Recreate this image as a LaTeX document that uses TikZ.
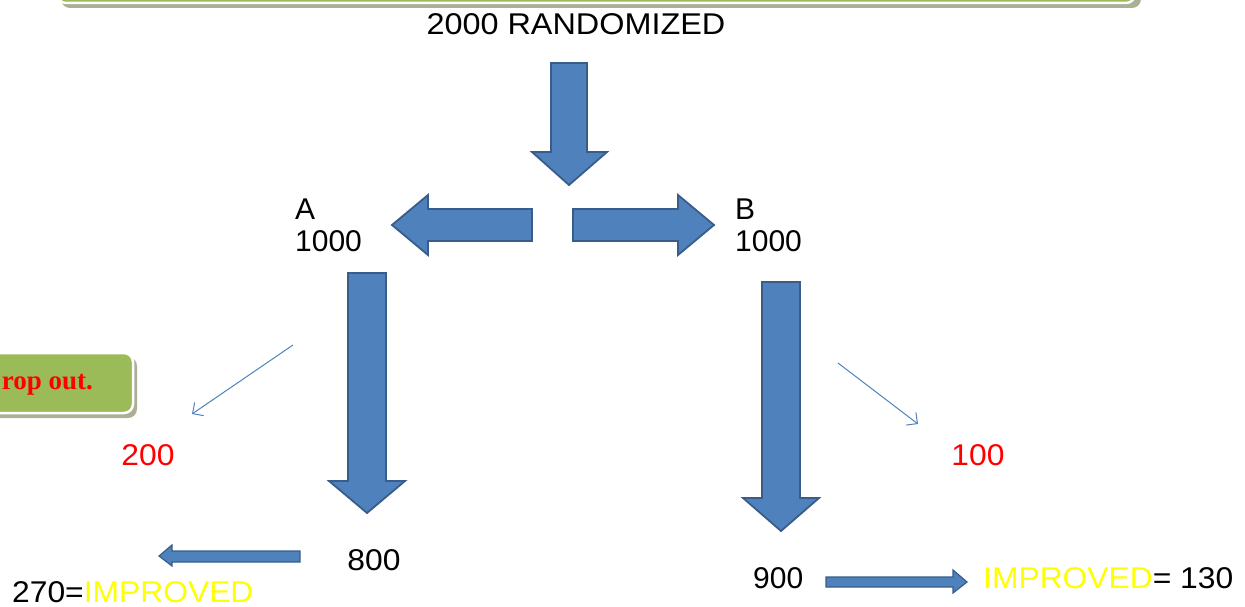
\documentclass[tikz,border=0pt]{standalone}
\usepackage{fontspec}
\setmainfont{Liberation Sans}
\newfontfamily\serifbold{Liberation Serif}
\usetikzlibrary{arrows.meta}
\definecolor{arrowblue}{HTML}{4F81BD}
\definecolor{arrowdark}{HTML}{385D8A}
\definecolor{boxgreen}{HTML}{9BBB59}
\definecolor{boxshadow}{HTML}{A9B096}
\definecolor{txtyellow}{HTML}{FFFF00}
\definecolor{txtred}{HTML}{FF0000}
\tikzset{
  blockarrow/.style={fill=arrowblue, draw=arrowdark, line width=1.8pt, line join=miter},
  smallarrow/.style={fill=arrowblue, draw=arrowdark, line width=1.2pt, line join=miter},
  thinarrow/.style={draw=arrowblue, line width=1pt, -{Straight Barb[length=8pt,width=16pt]}},
  label/.style={inner sep=0pt, font=\fontsize{30}{32}\selectfont},
  greenbox/.style={fill=boxgreen, draw=white, line width=2.5pt, rounded corners=9pt},
  shadowbox/.style={fill=boxshadow, rounded corners=9pt},
}
\newcommand{\wide}[1]{\scalebox{1.06}[1]{#1}}
\begin{document}
\begin{tikzpicture}[x=1pt,y=-1pt]
\useasboundingbox (0,0) rectangle (1245,607);
% top green box (only bottom visible)
\fill[shadowbox] (61,-60) rectangle (1141,8);
\draw[greenbox] (57,-60) rectangle (1135,3);
% drop-out box
\fill[shadowbox] (-30,357) rectangle (137,418);
\draw[greenbox] (-30,353) rectangle (133,413);
\node[inner sep=0pt, anchor=east, text=txtred, font=\serifbold\bfseries\fontsize{27}{28}\selectfont] (drop) at (93,385) {rop out.};
% texts
\node[label] (rand) at (576,24) {\scalebox{1.08}[1]{2000 RANDOMIZED}};
\node[label, anchor=west] (Alab) at (295,209) {A};
\node[label, anchor=west] (Anum) at (295,241) {1000};
\node[label, anchor=west] (Blab) at (735,209) {B};
\node[label, anchor=west] (Bnum) at (735,241) {1000};
\node[label, text=txtred] (n200) at (148,455) {\wide{200}};
\node[label, text=txtred] (n100) at (978,455) {\wide{100}};
\node[label] (n800) at (374,560) {\wide{800}};
\node[label, anchor=west] (n270) at (12,592) {\wide{270=\textcolor{txtyellow}{IMPROVED}}};
\node[label, anchor=west] (n900) at (753,578) {900};
\node[label, anchor=west] (n130) at (983,578) {\wide{\textcolor{txtyellow}{IMPROVED}= 130}};
% block arrows
\draw[blockarrow] (551,63) -- (587,63) -- (587,152) -- (607,152) -- (569,185) -- (532,152) -- (551,152) -- cycle;
\draw[blockarrow] (532,209) -- (428,209) -- (428,195) -- (392,225) -- (428,255) -- (428,241) -- (532,241) -- cycle;
\draw[blockarrow] (573,209) -- (678,209) -- (678,195) -- (714,225) -- (678,255) -- (678,241) -- (573,241) -- cycle;
\draw[blockarrow] (348,273) -- (386,273) -- (386,481) -- (405,481) -- (367,513) -- (329,481) -- (348,481) -- cycle;
\draw[blockarrow] (762,282) -- (800,282) -- (800,498) -- (819,498) -- (781,531) -- (743,498) -- (762,498) -- cycle;
\draw[smallarrow] (300,551) -- (172,551) -- (172,545) -- (159,556) -- (172,566) -- (172,562) -- (300,562) -- cycle;
\draw[smallarrow] (826,577) -- (953,577) -- (953,570) -- (967,582) -- (953,593) -- (953,587) -- (826,587) -- cycle;
% thin arrows
\coordinate (t1s) at (293,345);
\coordinate (t1e) at (192,414);
\coordinate (t2s) at (838,363);
\coordinate (t2e) at (918,424);
\draw[thinarrow] (t1s) -- (t1e);
\draw[thinarrow] (t2s) -- (t2e);
\end{tikzpicture}
\end{document}
